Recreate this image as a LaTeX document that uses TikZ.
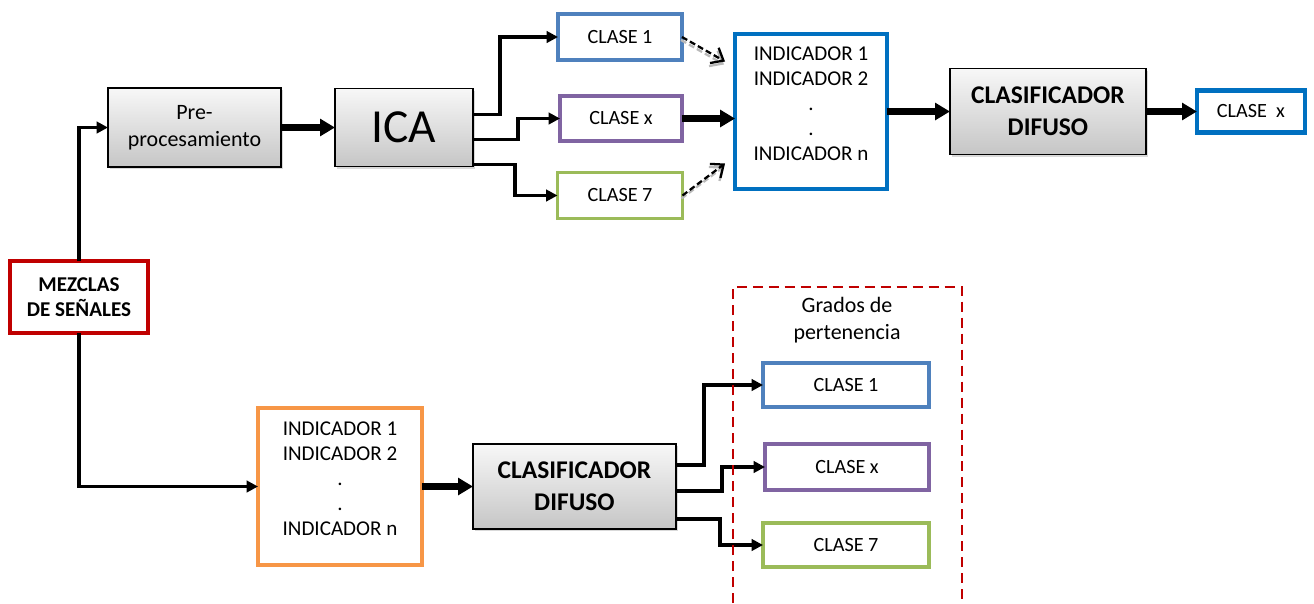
\documentclass[tikz,border=0pt]{standalone}
\usepackage{fontspec}
\setmainfont{Carlito}
\usetikzlibrary{positioning, calc, shadows, arrows.meta}
\definecolor{cazul}{HTML}{4F81BD}
\definecolor{cmorado}{HTML}{8064A2}
\definecolor{cverde}{HTML}{9BBB59}
\definecolor{cfuerte}{HTML}{0070C0}
\definecolor{crojo}{HTML}{C00000}
\definecolor{cnaranja}{HTML}{F79646}
\tikzset{gbox/.style={draw, line width=0.9pt, top color=gray!6, bottom color=gray!45, drop shadow={opacity=0.3, shadow xshift=1.3pt, shadow yshift=-1.3pt}, align=center, inner sep=0pt, outer sep=0pt}}
\tikzset{cbox/.style={draw=#1, line width=2.1pt, fill=white, inner sep=0pt, outer sep=0pt, font=\fontsize{11.5}{14}\selectfont}}
\tikzset{ibox/.style={draw=#1, line width=2.7pt, fill=white, inner sep=0pt, outer sep=0pt}}
\tikzset{itxt/.style={align=center, font=\fontsize{12}{14.2}\selectfont}}
\tikzset{bold/.style={font=\fontsize{14.5}{18}\selectfont\bfseries}}
\tikzset{arr/.style={draw, line width=1.9pt, -{Triangle[length=6.5pt, width=6.5pt]}}}
\tikzset{arr2/.style={draw, line width=3.6pt, -{Triangle[length=8.5pt, width=9.5pt]}}}
\tikzset{darr/.style={draw, line width=1.3pt, dash pattern=on 3.4pt off 1.8pt, -{Straight Barb[length=6pt, width=10pt]}}}
\tikzset{dsombra/.style={darr, draw=gray!55}}
\begin{document}
\begin{tikzpicture}[x=0.02cm, y=-0.02cm]
	\useasboundingbox (0,0) rectangle (1314,603);
	% rama superior
	\node[ibox=crojo, minimum width=2.76cm, minimum height=1.44cm, align=center, font=\fontsize{12}{14.2}\selectfont\bfseries] (mez) at (79,297) {MEZCLAS\\DE SEÑALES};
	\node[gbox, minimum width=3.46cm, minimum height=1.58cm, font=\fontsize{12.5}{15.3}\selectfont] (pre) at (194.5,127.5) {Pre-\\procesamiento};
	\node[gbox, minimum width=2.76cm, minimum height=1.56cm, right=1.08cm of pre, font=\fontsize{27}{30}\selectfont] (ica) {ICA};
	\node[cbox=cazul, minimum width=2.48cm, minimum height=0.92cm] (c1t) at (620,37) {CLASE 1};
	\node[cbox=cmorado, minimum width=2.44cm, minimum height=0.9cm] (cxt) at (621,118.5) {CLASE x};
	\node[cbox=cverde, minimum width=2.5cm, minimum height=0.92cm] (c7t) at (620,195.5) {CLASE 7};
	\node[ibox=cfuerte, minimum width=3.04cm, minimum height=3.1cm] (indt) at (811,111.5) {};
	\node[itxt] (indttxt) at ($(indt.center)+(0,-7.5)$) {INDICADOR 1\\INDICADOR 2\\.\\.\\INDICADOR n};
	\node[gbox, bold, minimum width=3.92cm, minimum height=1.72cm, right=1.26cm of indt] (clat) {CLASIFICADOR\\DIFUSO};
	\node[ibox=cfuerte, minimum width=2.16cm, minimum height=0.84cm, right=1.02cm of clat, font=\fontsize{11.5}{14}\selectfont] (outx) {CLASE\ \ x};
	%
	\draw[arr] (mez.north) |- (pre.west);
	\draw[arr2] (pre.east) -- (pre.east -| ica.west);
	\draw[arr] ($(ica.east)+(0,-13)$) -- ++(27,0) |- (c1t.west);
	\draw[arr] ($(ica.east)+(0,12)$) -- ++(45,0) |- (cxt.west);
	\draw[arr] ($(ica.east)+(0,37)$) -- ++(42,0) |- (c7t.west);
	\draw[dsombra] ($(c1t.east)+(-1,3)$) -- ($(indt.west)+(-11,-47)$);
	\draw[dsombra] ($(c7t.east)+(-1,3)$) -- ($(indt.west)+(-11,55)$);
	\draw[darr] (c1t.east) -- ($(indt.west)+(-10,-50)$);
	\draw[darr] (c7t.east) -- ($(indt.west)+(-10,52)$);
	\draw[arr2] (cxt.east) -- (cxt.east -| indt.west);
	\draw[arr2] (indt.east |- clat.west) -- (clat.west);
	\draw[arr2] (clat.east) -- (outx.west);
	% rama inferior
	\node[ibox=cnaranja, minimum width=3.28cm, minimum height=3.14cm] (indb) at (340,486.5) {};
	\node[itxt] (indbtxt) at ($(indb.center)+(0,-7.5)$) {INDICADOR 1\\INDICADOR 2\\.\\.\\INDICADOR n};
	\node[gbox, bold, minimum width=4.06cm, minimum height=1.7cm, right=1.02cm of indb] (clab) {CLASIFICADOR\\DIFUSO};
	\node[cbox=cazul, minimum width=3.32cm, minimum height=0.88cm] (c1b) at (846,385) {CLASE 1};
	\node[cbox=cmorado, minimum width=3.28cm, minimum height=0.92cm] (cxb) at (847,467) {CLASE x};
	\node[cbox=cverde, minimum width=3.32cm, minimum height=0.88cm] (c7b) at (846,545) {CLASE 7};
	\node[align=center, font=\fontsize{12.5}{15.3}\selectfont] (grados) at (847,320) {Grados de\\pertenencia};
	%
	\draw[arr] (mez.south) |- (indb.west);
	\draw[arr2] (indb.east) -- (clab.west);
	\draw[arr] ($(clab.east)+(0,-21.5)$) -- ++(28,0) |- (c1b.west);
	\draw[arr] ($(clab.east)+(0,4.5)$) -- ++(46,0) |- (cxb.west);
	\draw[arr] ($(clab.east)+(0,32.5)$) -- ++(44,0) |- (c7b.west);
	\draw[crojo, line width=1.6pt, dash pattern=on 5.7pt off 3.4pt] (733,603) -- (733,287) -- (962,287) -- (962,603);
\end{tikzpicture}
\end{document}
